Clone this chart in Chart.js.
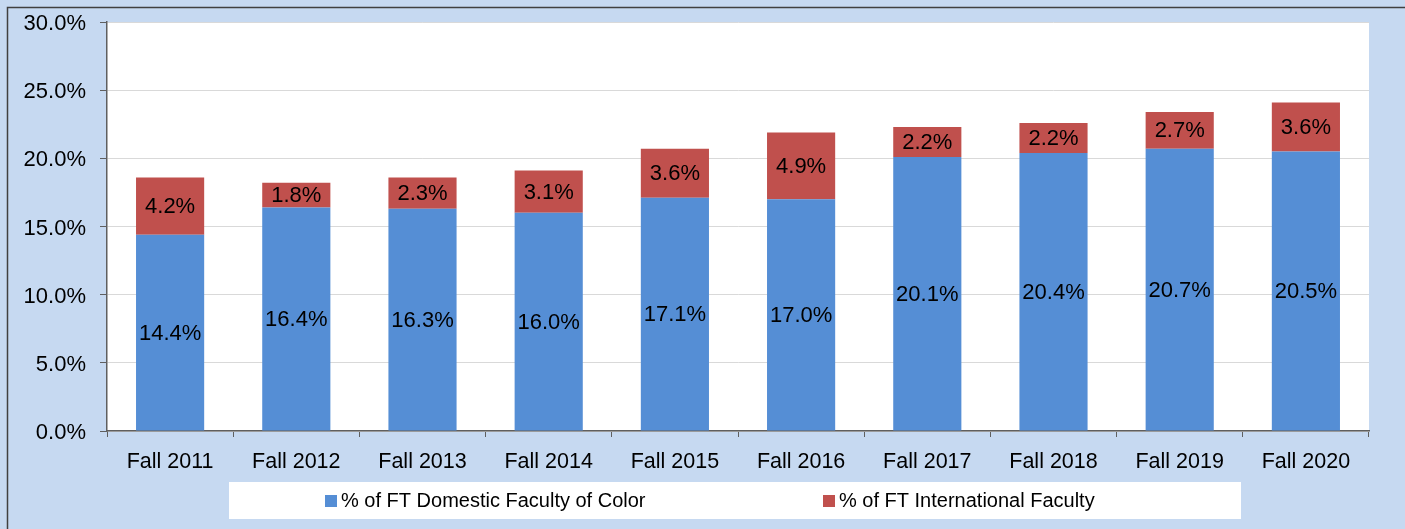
<!DOCTYPE html>
<html>
<head>
<meta charset="utf-8">
<script src="https://cdn.jsdelivr.net/npm/chart.js@4"></script>
<style>
  html, body { margin:0; padding:0; background:#c6d9f1; }
  canvas { display:block; }
</style>
</head>
<body>
<canvas id="facultyChart" width="1405" height="529"></canvas>
<script>
"use strict";

const terms         = ["Fall 2011","Fall 2012","Fall 2013","Fall 2014","Fall 2015","Fall 2016","Fall 2017","Fall 2018","Fall 2019","Fall 2020"];
const domesticColor = [14.4, 16.4, 16.3, 16.0, 17.1, 17.0, 20.1, 20.4, 20.7, 20.5];
const international = [4.2, 1.8, 2.3, 3.1, 3.6, 4.9, 2.2, 2.2, 2.7, 3.6];
const seriesNames   = ["% of FT Domestic Faculty of Color", "% of FT International Faculty"];

const BLUE  = "#558ed5";
const RED   = "#c0504d";
const FONT  = "'Liberation Sans', Arial, sans-serif";

// background, frame and white plot area
const backdrop = {
  id: "backdrop",
  beforeDraw(chart) {
    const { ctx, chartArea: a, width, height } = chart;
    ctx.save();
    ctx.fillStyle = "#c6d9f1";
    ctx.fillRect(0, 0, width, height);
    ctx.strokeStyle = "#404040";
    ctx.lineWidth = 1.5;
    ctx.beginPath();
    ctx.moveTo(7.5, height); ctx.lineTo(7.5, 7.5); ctx.lineTo(width, 7.5);
    ctx.stroke();
    ctx.fillStyle = "#ffffff";
    ctx.fillRect(a.left, a.top, a.right - a.left, a.bottom - a.top);
    ctx.restore();
  }
};

// value labels in the middle of each segment
const valueLabels = {
  id: "valueLabels",
  afterDatasetsDraw(chart) {
    const ctx = chart.ctx;
    ctx.save();
    ctx.font = "22px " + FONT;
    ctx.fillStyle = "#000";
    ctx.textAlign = "center";
    ctx.textBaseline = "middle";
    chart.data.datasets.forEach((ds, i) => {
      chart.getDatasetMeta(i).data.forEach((bar, j) => {
        const p = bar.getCenterPoint();
        ctx.fillText(ds.data[j].toFixed(1) + "%", p.x, p.y + 1);
      });
    });
    ctx.restore();
  }
};

// legend in a white box under the axis
const boxLegend = {
  id: "boxLegend",
  afterDraw(chart) {
    const ctx = chart.ctx;
    ctx.save();
    ctx.fillStyle = "#fff";
    ctx.fillRect(229, 482, 1012, 37);
    ctx.font = "20px " + FONT;
    ctx.textBaseline = "middle";
    const starts = [325, 823];
    chart.data.datasets.forEach((ds, i) => {
      const x = starts[i];
      ctx.fillStyle = ds.backgroundColor;
      ctx.fillRect(x, 495, 12, 12);
      ctx.fillStyle = "#000";
      ctx.fillText(ds.label, x + 16, 501);
    });
    ctx.restore();
  }
};

new Chart(document.getElementById("facultyChart"), {
  type: "bar",
  data: {
    labels: terms,
    datasets: [
      { label: seriesNames[0], data: domesticColor, backgroundColor: BLUE },
      { label: seriesNames[1], data: international, backgroundColor: RED }
    ]
  },
  options: {
    responsive: false,
    animation: false,
    layout: { padding: { left: 0, top: 22, right: 36, bottom: 0 } },
    datasets: { bar: { barPercentage: 0.54, categoryPercentage: 1 } },
    plugins: { legend: { display: false }, tooltip: { enabled: false } },
    scales: {
      x: {
        stacked: true,
        afterFit: s => { s.height = 98; s.paddingLeft = 0; s.paddingRight = 0; },
        grid: { drawOnChartArea: false, drawTicks: true, tickLength: 6, tickColor: "#5f5f5f", offset: true },
        border: { color: "#5f5f5f", width: 1.5 },
        ticks: { color: "#000", font: { family: FONT, size: 21.5 }, padding: 12, maxRotation: 0 }
      },
      y: {
        stacked: true,
        min: 0, max: 30,
        afterFit: s => { s.width = 107; s.paddingTop = 0; s.paddingBottom = 0; },
        grid: { color: "#d9d9d9", tickLength: 7, tickColor: "#5f5f5f" },
        border: { color: "#5f5f5f", width: 1.5 },
        ticks: { stepSize: 5, color: "#000", font: { family: FONT, size: 22 }, padding: 14, labelOffset: 2,
                 callback: v => v.toFixed(1) + "%" }
      }
    }
  },
  plugins: [backdrop, valueLabels, boxLegend]
});
</script>
</body>
</html>
